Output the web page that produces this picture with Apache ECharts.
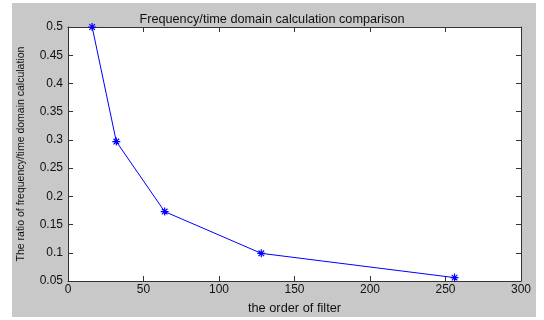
<!DOCTYPE html>
<html><head><meta charset="utf-8">
<script src="https://cdn.jsdelivr.net/npm/echarts@6/dist/echarts.min.js"></script>
<style>html,body{margin:0;padding:0;background:#fff}#c{width:544px;height:320px}</style>
</head><body><div id="c"></div>
<script>
const filterOrder = [16, 32, 64, 128, 256];
const ratio = [0.5, 0.297, 0.173, 0.099, 0.056];
const titleText = 'Frequency/time domain calculation comparison';
const xName = 'the order of filter';
const yName = 'The ratio of frequency/time domain calculation';

const chart = echarts.init(document.getElementById('c'));
const font = 'Arial, "Liberation Sans", sans-serif';
const star = 'path://M0,-10L0,10M-10,0L10,0M-7,-7L7,7M-7,7L7,-7';
const axCommon = {
  axisLine: {show: true, onZero: false, lineStyle: {color: '#333', width: 1}},
  axisTick: {show: true, inside: true, length: 5, lineStyle: {color: '#333'}},
  splitLine: {show: false}
};
chart.setOption({
  animation: false,
  backgroundColor: '#fff',
  graphic: [{type: 'rect', z: -10, shape: {x: 12, y: 3, width: 524, height: 314}, style: {fill: '#c8c8c8'}}],
  title: {text: titleText, left: 'center', top: 8, textStyle: {fontFamily: font, fontSize: 12.7, fontWeight: 'normal', color: '#111'}},
  grid: {left: 68, top: 27, right: 23, bottom: 31, show: true, backgroundColor: '#fff', borderWidth: 0},
  xAxis: [
    Object.assign({type: 'value', min: 0, max: 300, interval: 50, position: 'bottom',
      name: xName, nameLocation: 'middle', nameGap: 21,
      nameTextStyle: {fontFamily: font, fontSize: 12.8, color: '#111'},
      axisLabel: {fontFamily: font, fontSize: 12, color: '#111', margin: 3}}, axCommon),
    Object.assign({type: 'value', min: 0, max: 300, interval: 50, position: 'top', axisLabel: {show: false}}, axCommon)
  ],
  yAxis: [
    Object.assign({type: 'value', min: 0.05, max: 0.5, interval: 0.05, position: 'left',
      name: yName, nameLocation: 'middle', nameGap: 41,
      nameTextStyle: {fontFamily: font, fontSize: 10.5, color: '#111'},
      axisLabel: {fontFamily: font, fontSize: 12, color: '#111', margin: 5,
        formatter: v => String(+v.toFixed(2))}}, axCommon),
    Object.assign({type: 'value', min: 0.05, max: 0.5, interval: 0.05, position: 'right', axisLabel: {show: false}}, axCommon)
  ],
  series: [{
    type: 'line',
    data: filterOrder.map((x, i) => [x, ratio[i]]),
    symbol: star, symbolSize: 8,
    lineStyle: {color: '#0000ff', width: 1},
    itemStyle: {color: 'none', borderColor: '#0000ff', borderWidth: 1.2},
    clip: false
  }]
});
</script></body></html>
